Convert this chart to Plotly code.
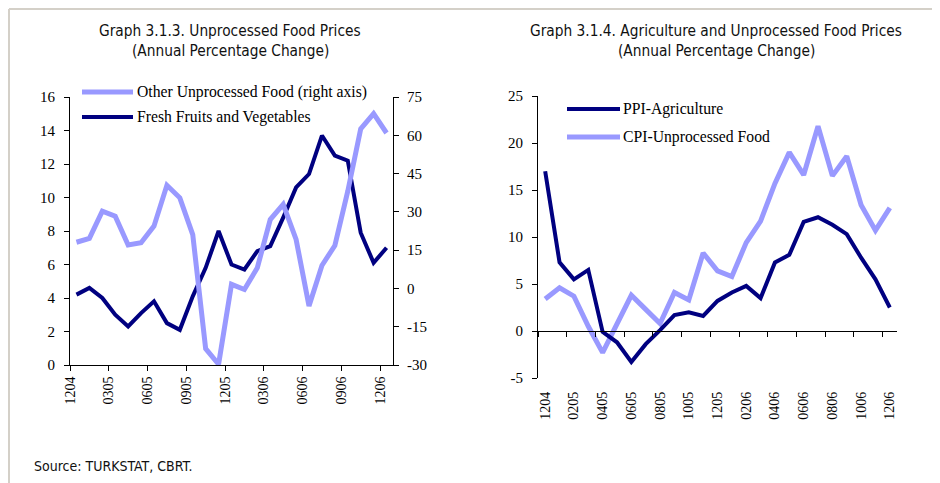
import plotly.graph_objects as go

# ---------------- data ----------------
CATEGORIES = ["1204", "0105", "0205", "0305", "0405", "0505", "0605", "0705", "0805",
              "0905", "1005", "1105", "1205", "0106", "0206", "0306", "0406", "0506",
              "0606", "0706", "0806", "0906", "1006", "1106", "1206"]

FRESH_FRUITS_VEG = [4.2, 4.6, 4.0, 3.0, 2.3, 3.1, 3.8, 2.5, 2.1, 4.1, 5.8, 8.0, 6.0,
                    5.7, 6.8, 7.1, 8.8, 10.6, 11.4, 13.7, 12.5, 12.2, 7.9, 6.1, 7.0]
OTHER_UNPROCESSED = [18.1, 19.6, 30.3, 28.3, 17.0, 17.9, 24.4, 40.4, 35.5, 21.1, -23.6,
                     -29.7, 1.6, -0.4, 8.1, 27.0, 32.9, 19.2, -6.9, 9.0, 16.8, 38.1,
                     62.5, 68.5, 60.9]

PPI_AGRICULTURE = [17.0, 7.3, 5.5, 6.5, -0.1, -1.2, -3.3, -1.4, 0.1, 1.7, 2.0, 1.6, 3.2,
                   4.1, 4.8, 3.5, 7.3, 8.1, 11.6, 12.1, 11.3, 10.3, 7.8, 5.5, 2.5]
CPI_UNPROCESSED = [3.4, 4.6, 3.7, 0.5, -2.3, 0.9, 3.8, 2.3, 0.8, 4.1, 3.3, 8.3, 6.4,
                   5.8, 9.4, 11.7, 15.7, 19.0, 16.6, 21.8, 16.5, 18.6, 13.4, 10.7, 13.1]

LEFT_X_TICKS = ["1204", "0305", "0605", "0905", "1205", "0306", "0606", "0906", "1206"]
RIGHT_X_TICKS = ["1204", "0205", "0405", "0605", "0805", "1005", "1205", "0206", "0406",
                 "0606", "0806", "1006", "1206"]
LEFT_Y_TICKS = [0, 2, 4, 6, 8, 10, 12, 14, 16]
LEFT_Y2_TICKS = [-30, -15, 0, 15, 30, 45, 60, 75]
RIGHT_Y_TICKS = [-5, 0, 5, 10, 15, 20, 25]

NAME_OTHER = "Other Unprocessed Food (right axis)"
NAME_FRESH = "Fresh Fruits and Vegetables"
NAME_PPI = "PPI-Agriculture"
NAME_CPI = "CPI-Unprocessed Food"

TITLE_LEFT = ["Graph 3.1.3. Unprocessed Food Prices", "(Annual Percentage Change)"]
TITLE_RIGHT = ["Graph 3.1.4. Agriculture and Unprocessed Food Prices", "(Annual Percentage Change)"]
SOURCE = "Source: TURKSTAT, CBRT."

# ---------------- style ----------------
W, H = 940, 483
PAGE_OFFSET = 8  # default page margin around the figure div
DARK = "#000080"
LIGHT = "#9999FF"
SERIF = "Liberation Serif, Times New Roman, serif"
NARROW = "Liberation Sans Narrow, Arial Narrow, DejaVu Sans Condensed, sans-serif"


def px_x(v):
    return (v - PAGE_OFFSET) / W


def px_y(v):
    return 1 - (v - PAGE_OFFSET) / H


idx = list(range(len(CATEGORIES)))
n = len(CATEGORIES)
xr = [-0.5, n - 0.5]

L_DOM_X = [px_x(70), px_x(393)]
L_DOM_Y = [px_y(365), px_y(97)]
R_DOM_X = [px_x(538), px_x(897)]
R_DOM_Y = [px_y(378), px_y(96)]
R_YR = [RIGHT_Y_TICKS[0], RIGHT_Y_TICKS[-1]]
zero_pos = R_DOM_Y[0] + (R_DOM_Y[1] - R_DOM_Y[0]) * (0 - R_YR[0]) / (R_YR[1] - R_YR[0])

fig = go.Figure()

fig.add_trace(go.Scatter(x=idx, y=FRESH_FRUITS_VEG, name=NAME_FRESH, mode="lines",
                         line=dict(color=DARK, width=4), xaxis="x", yaxis="y",
                         hovertext=CATEGORIES, showlegend=False))
fig.add_trace(go.Scatter(x=idx, y=OTHER_UNPROCESSED, name=NAME_OTHER, mode="lines",
                         line=dict(color=LIGHT, width=5), xaxis="x", yaxis="y2",
                         hovertext=CATEGORIES, showlegend=False))
fig.add_trace(go.Scatter(x=idx, y=CPI_UNPROCESSED, name=NAME_CPI, mode="lines",
                         line=dict(color=LIGHT, width=5), xaxis="x2", yaxis="y3",
                         hovertext=CATEGORIES, showlegend=False))
fig.add_trace(go.Scatter(x=idx, y=PPI_AGRICULTURE, name=NAME_PPI, mode="lines",
                         line=dict(color=DARK, width=4), xaxis="x2", yaxis="y3",
                         hovertext=CATEGORIES, showlegend=False))

tickfont = dict(family=SERIF, size=15, color="black")
xtickfont = dict(family=SERIF, size=14, color="black")
common = dict(showgrid=False, zeroline=False, linecolor="black", linewidth=1,
              tickcolor="black", ticklen=5, tickwidth=1, automargin=False)

fig.update_layout(
    template="none",
    width=W, height=H,
    margin=dict(l=0, r=0, t=0, b=0, pad=0, autoexpand=False),
    paper_bgcolor="white", plot_bgcolor="white",
    showlegend=False,
    xaxis=dict(domain=L_DOM_X, range=xr, anchor="y", showline=True, ticks="outside",
               tickmode="array", tickvals=[CATEGORIES.index(t) - 0.5 for t in LEFT_X_TICKS],
               ticktext=LEFT_X_TICKS, tickangle=-90, tickfont=xtickfont,
               ticklabelstandoff=0, **common),
    yaxis=dict(domain=L_DOM_Y, range=[LEFT_Y_TICKS[0], LEFT_Y_TICKS[-1]], anchor="x",
               showline=True, ticks="outside", tickmode="array", tickvals=LEFT_Y_TICKS,
               ticktext=[str(v) for v in LEFT_Y_TICKS], tickfont=tickfont,
               ticklabelstandoff=6, **common),
    yaxis2=dict(overlaying="y", side="right", anchor="x",
                range=[LEFT_Y2_TICKS[0], LEFT_Y2_TICKS[-1]], showline=True, ticks="outside",
                tickmode="array", tickvals=LEFT_Y2_TICKS,
                ticktext=[str(v) for v in LEFT_Y2_TICKS], tickfont=tickfont,
                ticklabelstandoff=5, **common),
    xaxis2=dict(domain=R_DOM_X, range=xr, anchor="y3", showline=False, ticks="",
                tickmode="array", tickvals=[CATEGORIES.index(t) for t in RIGHT_X_TICKS],
                ticktext=RIGHT_X_TICKS, tickangle=-90, tickfont=xtickfont,
                ticklabelstandoff=10, showgrid=False, zeroline=False, automargin=False),
    xaxis3=dict(overlaying="x2", anchor="free", position=zero_pos, range=xr,
                showline=True, ticks="outside", showticklabels=False,
                tickmode="array", tickvals=[CATEGORIES.index(t) - 0.5 for t in RIGHT_X_TICKS],
                **common),
    yaxis3=dict(domain=R_DOM_Y, range=R_YR, anchor="x2", showline=True, ticks="outside",
                tickmode="array", tickvals=RIGHT_Y_TICKS,
                ticktext=[str(v) for v in RIGHT_Y_TICKS], tickfont=tickfont,
                ticklabelstandoff=6, **common),
)

# invisible trace to activate xaxis3
fig.add_trace(go.Scatter(x=[idx[0]], y=[0], xaxis="x3", yaxis="y3", mode="markers",
                         marker=dict(opacity=0), hoverinfo="skip", showlegend=False))

# frame lines (top and left), as close to the page edge as the figure allows
fig.add_shape(type="line", xref="paper", yref="paper", x0=px_x(9), x1=px_x(9),
              y0=0, y1=px_y(9), line=dict(color="#D4D0C8", width=2))
fig.add_shape(type="line", xref="paper", yref="paper", x0=px_x(9), x1=1,
              y0=px_y(9), y1=px_y(9), line=dict(color="#D4D0C8", width=2))

# manual legends
legend_items = [
    (NAME_OTHER, LIGHT, 5, 82, 133, 92, 135),
    (NAME_FRESH, DARK, 4, 82, 133, 117, 135),
    (NAME_PPI, DARK, 4, 567, 620, 109, 621),
    (NAME_CPI, LIGHT, 5, 567, 620, 137, 621),
]
for name, color, wd, xa, xb, yy, xt in legend_items:
    fig.add_shape(type="line", xref="paper", yref="paper", x0=px_x(xa), x1=px_x(xb),
                  y0=px_y(yy), y1=px_y(yy), line=dict(color=color, width=wd))
    fig.add_annotation(text=name, xref="paper", yref="paper", x=px_x(xt), y=px_y(yy),
                       xanchor="left", yanchor="middle", showarrow=False,
                       font=dict(family=SERIF, size=15.7, color="black"))

# titles
for lines, cx in ((TITLE_LEFT, 230), (TITLE_RIGHT, 716)):
    for line, cy in zip(lines, (31, 51)):
        fig.add_annotation(text=line, xref="paper", yref="paper", x=px_x(cx), y=px_y(cy),
                           xanchor="center", yanchor="middle", showarrow=False,
                           font=dict(family=NARROW, size=15.3, color="#111111"))

fig.add_annotation(text=SOURCE, xref="paper", yref="paper", x=px_x(32), y=px_y(466),
                   xanchor="left", yanchor="middle", showarrow=False,
                   font=dict(family=NARROW, size=14, color="#111111"))

fig.write_html("out.html")
